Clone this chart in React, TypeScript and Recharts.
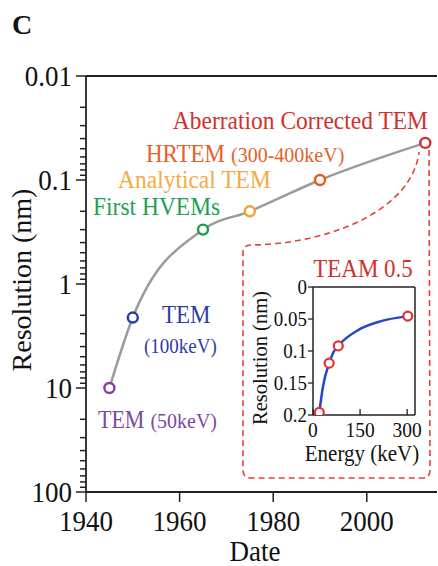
import React from "react";
import { LineChart, Line, XAxis, YAxis, ReferenceLine } from "recharts";

// main panel: resolution milestones
const years = [1945, 1950, 1965, 1975, 1990, 2012.5];
const resolution = [10, 2.1, 0.3, 0.2, 0.1, 0.044];
const xTicks = [1940, 1960, 1980, 2000];
const yMajor = [0.01, 0.1, 1, 10, 100];
const yMinor = [
  0.02, 0.03, 0.04, 0.05, 0.06, 0.07, 0.08, 0.09,
  0.2, 0.3, 0.4, 0.5, 0.6, 0.7, 0.8, 0.9,
  2, 3, 4, 5, 6, 7, 8, 9,
  20, 30, 40, 50, 60, 70, 80, 90,
];

// inset: TEAM 0.5
const energy = [20, 51.5, 80.5, 302];
const teamRes = [0.196, 0.119, 0.092, 0.0455];
const curveEnergy = [20, 32, 51.5, 64, 80.5, 145, 220, 302];
const curveRes = [0.196, 0.155, 0.119, 0.103, 0.092, 0.067, 0.053, 0.0455];
const insetXTicks = [0, 150, 300];
const insetYTicks = [0, 0.05, 0.1, 0.15, 0.2];

const POINT_COLORS = ["#8040b0", "#2340a0", "#1a9d48", "#f2a030", "#ee5a1e", "#d03030"];
const SERIF = "'Liberation Serif', 'DejaVu Serif', serif";
const SY = 1.1;
const AXIS = "#222";

const mainData = years.map((y, i) => ({ year: y, res: resolution[i] }));
const pointData = energy.map((e, i) => ({ e, r: teamRes[i] }));
const curveData = curveEnergy.map((e, i) => ({ e, r: curveRes[i] }));

function Txt({ x, y, size, anchor = "start", fill = "#111", weight = "normal", sy = SY, rotate = 0, children }: any) {
  const rot = rotate ? ` rotate(${rotate})` : "";
  return (
    <text
      transform={`translate(${x} ${y}) scale(1 ${sy})${rot}`}
      fontFamily={SERIF}
      fontSize={size}
      textAnchor={anchor}
      fill={fill}
      fontWeight={weight}
    >
      {children}
    </text>
  );
}

function MainYTick(p: any) {
  const v = p.payload.value;
  const major = yMajor.includes(v);
  const len = major ? 10 : 6;
  return (
    <g>
      <line x1={p.x - len} x2={p.x} y1={p.y} y2={p.y} stroke={AXIS} strokeWidth={1.5} />
      {major && (
        <Txt x={p.x - 14} y={p.y + 0.34 * 27 * SY} size={27} anchor="end">
          {String(v)}
        </Txt>
      )}
    </g>
  );
}

function MainXTick(p: any) {
  return (
    <g>
      <line x1={p.x} x2={p.x} y1={p.y} y2={p.y + 10} stroke={AXIS} strokeWidth={1.5} />
      <Txt x={p.x} y={p.y + 39} size={27} anchor="middle">
        {String(p.payload.value)}
      </Txt>
    </g>
  );
}

function InsetYTick(p: any) {
  return (
    <g>
      <line x1={p.x - 5} x2={p.x} y1={p.y} y2={p.y} stroke={AXIS} strokeWidth={1.3} />
      <Txt x={p.x - 6} y={p.y + 0.34 * 19 * SY} size={19} anchor="end">
        {String(p.payload.value)}
      </Txt>
    </g>
  );
}

function InsetXTick(p: any) {
  return (
    <g>
      <line x1={p.x} x2={p.x} y1={p.y} y2={p.y - 6} stroke={AXIS} strokeWidth={1.3} />
      <Txt x={p.x} y={p.y + 22} size={19.5} anchor="middle">
        {String(p.payload.value)}
      </Txt>
    </g>
  );
}

export default function App() {
  return (
    <div style={{ position: "absolute", left: 0, top: 0, width: 438, height: 566, background: "#fff" }}>
      <LineChart width={438} height={566} data={mainData} margin={{ top: 76, right: 1, bottom: 0, left: 0 }}>
        <XAxis
          dataKey="year"
          type="number"
          domain={[1940, 2015]}
          allowDataOverflow
          ticks={xTicks}
          interval={0}
          height={74}
          tickSize={0}
          tickMargin={0}
          tickLine={false}
          axisLine={{ stroke: AXIS, strokeWidth: 1.8 }}
          tick={(p: any) => <MainXTick {...p} />}
        />
        <YAxis
          type="number"
          scale="log"
          domain={[0.01, 100]}
          allowDataOverflow
          reversed
          ticks={[...yMajor, ...yMinor]}
          interval={0}
          width={86}
          tickSize={0}
          tickMargin={0}
          tickLine={false}
          axisLine={{ stroke: AXIS, strokeWidth: 1.8 }}
          tick={(p: any) => <MainYTick {...p} />}
        />
        <ReferenceLine y={0.01} stroke={AXIS} strokeWidth={1.8} />
        <Line
          type="monotone"
          dataKey="res"
          stroke="#9b9b9b"
          strokeWidth={2.5}
          isAnimationActive={false}
          dot={(p: any) => (
            <circle
              key={p.index}
              cx={p.cx}
              cy={p.cy}
              r={5}
              fill="#fff"
              stroke={POINT_COLORS[p.index]}
              strokeWidth={2.4}
            />
          )}
        />
      </LineChart>

      <svg width={438} height={566} style={{ position: "absolute", left: 0, top: 0, pointerEvents: "none" }}>
        <path
          d="M 429 150 L 430 470 Q 430 478 422 478 L 251 478 Q 243 478 243 470 L 243 253 Q 243 245 251 245 C 330 244, 412 210, 419 152"
          fill="none"
          stroke="#e5403a"
          strokeWidth={1.6}
          strokeDasharray="6 4"
        />
      </svg>

      <div style={{ position: "absolute", left: 230, top: 270 }}>
        <LineChart width={205} height={200} margin={{ top: 17, right: 20, bottom: 0, left: 0 }}>
          <XAxis
            dataKey="e"
            type="number"
            domain={[0, 325]}
            allowDataOverflow
            ticks={insetXTicks}
            interval={0}
            height={55}
            tickSize={0}
            tickMargin={0}
            tickLine={false}
            axisLine={{ stroke: AXIS, strokeWidth: 1.5 }}
            tick={(p: any) => <InsetXTick {...p} />}
          />
          <YAxis
            type="number"
            domain={[0, 0.2]}
            allowDataOverflow
            reversed
            ticks={insetYTicks}
            interval={0}
            width={83}
            tickSize={0}
            tickMargin={0}
            tickLine={false}
            axisLine={{ stroke: AXIS, strokeWidth: 1.5 }}
            tick={(p: any) => <InsetYTick {...p} />}
          />
          <ReferenceLine y={0} stroke={AXIS} strokeWidth={1.5} />
          <ReferenceLine x={325} stroke={AXIS} strokeWidth={1.5} />
          <Line
            data={curveData}
            type="monotone"
            dataKey="r"
            stroke="#2448c8"
            strokeWidth={2.5}
            dot={false}
            isAnimationActive={false}
          />
          <Line
            data={pointData}
            dataKey="r"
            stroke="none"
            isAnimationActive={false}
            dot={{ r: 4.5, fill: "#fff", stroke: "#e03030", strokeWidth: 2.2 }}
          />
        </LineChart>
      </div>

      <svg width={438} height={566} style={{ position: "absolute", left: 0, top: 0, pointerEvents: "none" }}>
        <Txt x={12} y={34} size={28} weight="bold" sy={1}>C</Txt>
        <Txt x={31} y={280} size={28} anchor="middle" sy={1} rotate={-90}>Resolution (nm)</Txt>
        <Txt x={255} y={561} size={27} anchor="middle">Date</Txt>

        <Txt x={428} y={129} size={23.5} anchor="end" fill="#d0312d">Aberration Corrected TEM</Txt>
        <Txt x={146} y={162} size={23} fill="#e8602a">
          HRTEM<tspan fontSize={20} dx={6}>(300-400keV)</tspan>
        </Txt>
        <Txt x={118} y={188} size={23.5} fill="#f4aa45">Analytical TEM</Txt>
        <Txt x={93} y={215} size={23.5} fill="#22a052">First HVEMs</Txt>
        <Txt x={162} y={323} size={23} fill="#2d3fa5">TEM</Txt>
        <Txt x={144} y={353} size={19} fill="#2d3fa5">(100keV)</Txt>
        <Txt x={98} y={428} size={22} fill="#7c48a6">
          TEM<tspan fontSize={20} dx={6}>(50keV)</tspan>
        </Txt>

        <Txt x={363} y={277} size={23} anchor="middle" fill="#d0312d">TEAM 0.5</Txt>
        <Txt x={267} y={358} size={20.5} anchor="middle" sy={1} rotate={-90}>Resolution (nm)</Txt>
        <Txt x={362} y={461} size={21} anchor="middle">Energy (keV)</Txt>
      </svg>
    </div>
  );
}
